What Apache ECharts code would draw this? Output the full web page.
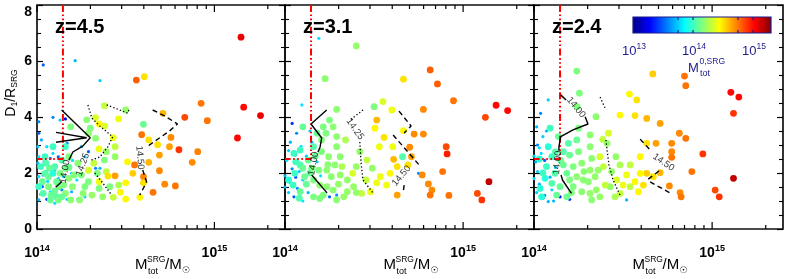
<!DOCTYPE html>
<html><head><meta charset="utf-8">
<script src="https://cdn.jsdelivr.net/npm/echarts@6/dist/echarts.min.js"></script>
<style>html,body{margin:0;padding:0;background:#fff}#c{width:789px;height:279px}</style>
</head><body><div id="c"></div>
<script>
// ---------------- DATA ----------------
const panelTitles = ['z=4.5', 'z=3.1', 'z=2.4'];
const yTicks = [0, 2, 4, 6, 8];
const xRange = [1e14, 2.5e15];
const xTickVals = [1e14,2e14,3e14,4e14,5e14,6e14,7e14,8e14,9e14,1e15,2e15];
const cbRange = [13, 15.3];            // log10 M0 colour range
const cbTickLogs = [13.75, 14, 14.75, 15];
const cbLabelLogs = [13, 14, 15];
const cutMass = 1.4e14, cutD = 2.5;

// points: [log10 Mtot, D1/R, log10 M0]
const p1Big = [
[15.15,6.85,15.05],[15.165,4.35,15.0],[15.26,4.05,15.05],[15.13,3.25,15.0],
[14.925,4.49,14.75],[14.96,3.87,14.75],[14.906,2.76,14.72],[14.875,2.38,14.7],
[14.833,3.99,14.85],[14.8,2.83,14.9],[14.78,1.54,14.75],[14.56,5.32,14.8],
[14.605,5.44,14.5],[14.71,4.13,14.6],[14.755,3.27,14.7],[14.747,2.94,14.65],
[14.72,1.6,14.7],[14.654,1.31,14.75],[14.59,3.37,14.75],[14.63,3.18,14.5],
[14.68,3.01,14.5],[14.6,3.74,14.1],[14.55,2.29,14.75],[14.63,2.38,14.6],
[14.69,2.64,14.65],[14.69,2.08,14.7],[14.6,1.87,14.7],[14.6,1.65,14.5],
[14.47,1.31,14.45],[14.5,1.07,14.45],[14.58,1.13,14.45],[14.43,1.13,14.3],
[14.54,1.99,14.55],[14.51,2.4,14.45],[14.44,1.9,14.65],[14.5,1.65,14.45],
[14.38,4.4,14.3],[14.33,3.98,14.35],[14.38,3.68,14.35],[14.5,4.25,14.2],
[14.46,3.93,14.4],[14.35,3.75,14.45],[14.3,3.6,14.15],[14.43,3.26,14.4],
[14.44,2.94,14.3],[14.39,2.76,14.2],[14.44,2.58,14.2],[14.35,2.86,14.4],
[14.38,2.46,14.15],[14.33,3.24,14.18],[14.29,3.42,14.18],[14.32,2.35,14.3],
[14.34,1.99,14.15],[14.39,2.05,14.3],[14.35,1.69,14.4],[14.41,1.51,14.15],
[14.35,1.45,14.15],[14.29,1.69,14.15],[14.27,1.51,14.15],[14.25,1.93,14.15],
[14.29,2.1,14.35],[14.23,2.35,14.18],[14.18,2.58,14.15],[14.16,2.94,14.0],
[14.19,3.65,14.15],[14.28,3.9,14.18],[14.2,1.51,14.18],[14.19,1.04,14.18],
[14.24,1.04,14.18],[14.16,1.27,14.18],[14.11,1.15,14.05],[14.12,1.51,14.15],
[14.21,1.93,14.15],[14.18,1.81,14.18],[14.26,1.27,14.18],[14.31,1.21,14.2],
[14.46,1.57,14.25],[14.4,1.89,14.5],[14.37,1.15,14.2],
[14.02,2.23,14.0],[14.045,1.99,14.05],[14.07,2.17,14.1],[14.1,2.23,14.05],
[14.13,1.99,14.15],[14.03,1.69,14.1],[14.065,1.51,14.15],[14.11,1.69,14.1],
[14.15,1.57,14.15],[14.035,1.27,14.05],[14.08,1.21,14.1],[14.075,1.04,14.1],
[14.12,1.04,14.15],[14.045,2.58,14.0],[14.09,2.94,14.0],[14.14,2.46,14.05],
[14.16,2.17,14.15],[14.01,1.51,14.0],[14.065,1.87,14.1],[14.09,1.99,13.95],
[14.14,1.15,14.1],[14.05,2.35,14.05],[14.1,1.35,14.1],[14.18,2.2,14.1]
];
const p1Small = [
[14.035,5.86,13.5],[14.215,6.01,13.7],[14.355,5.3,13.75],[14.09,3.99,13.6],[14.16,3.93,13.3],
[14.01,3.83,13.6],[14.025,3.18,13.7],[14.055,2.94,13.8],[14.01,2.58,13.8],[14.075,2.52,13.6],
[14.005,2.35,13.7],[14.055,2.05,13.75],[14.01,1.87,13.8],[14.17,2.23,13.4],[14.195,1.99,13.75],
[14.03,1.51,13.5],[14.075,1.33,13.8],[14.01,1.04,13.7],[14.055,1.06,13.45],[14.1,0.92,13.8],
[14.17,1.06,13.75],[14.225,1.75,13.8],[14.27,2.58,13.75],[14.29,2.76,13.5],[14.33,2.17,13.6],
[14.25,2.94,13.7],[14.17,3.06,13.6],[14.13,3.89,13.75],[14.23,1.06,13.7],[14.27,1.15,13.75],
[14.355,2.17,13.7],[14.01,3.42,13.5],[14.005,2.94,13.75],[14.12,2.58,13.5],[14.035,1.93,13.5],
[14.15,1.87,13.8],[14.195,1.33,13.7],[14.1,2.1,13.75],[14.06,1.7,13.8],[14.02,1.25,13.75],
[14.14,1.4,13.6],[14.09,2.7,13.8],[14.04,2.4,13.4],[14.12,1.8,13.7],[14.2,2.45,13.8]
];
const p2Big = [
[14.4,6.54,14.2],[14.815,5.68,14.8],[14.856,5.18,14.8],[14.665,5.35,14.5],[14.946,4.58,14.75],
[15.185,4.42,15.0],[15.25,4.23,15.0],[15.125,3.99,14.85],[15.145,1.69,15.15],[14.905,2.94,14.85],
[14.91,2.68,14.95],[14.885,2.05,14.75],[14.92,1.2,14.75],[15.08,1.27,14.85],[15.105,1.04,14.9],
[14.777,4.27,14.7],[14.725,3.39,14.7],[14.777,3.39,14.7],[14.665,3.51,14.45],[14.7,2.92,14.7],
[14.71,2.58,14.65],[14.69,2.29,14.5],[14.77,1.93,14.7],[14.805,1.61,14.7],[14.825,1.39,14.7],
[14.815,1.21,14.75],[14.61,2.49,14.6],[14.63,2.23,14.5],[14.63,1.21,14.65],[14.6,4.25,14.4],
[14.55,4.55,14.35],[14.5,4.37,14.15],[14.515,3.89,14.6],[14.505,3.6,14.45],[14.556,3.27,14.5],
[14.605,2.94,14.4],[14.66,2.58,14.05],[14.53,2.94,14.4],[14.59,1.99,14.45],[14.535,1.87,14.4],
[14.515,1.65,14.4],[14.57,1.57,14.4],[14.49,2.17,14.2],[14.455,1.75,14.3],[14.48,1.33,14.4],
[14.43,1.27,14.3],[14.46,2.46,14.3],[14.42,2.76,14.2],[14.4,2.23,14.2],[14.38,1.99,14.35],
[14.35,1.75,14.2],[14.385,1.51,14.2],[14.35,1.33,14.2],[14.4,1.3,14.2],[14.28,2.29,14.18],
[14.32,2.23,14.25],[14.31,2.58,14.18],[14.29,2.94,14.18],[14.34,3.18,14.25],[14.29,3.3,14.18],
[14.29,4.27,14.18],[14.225,5.37,14.18],[14.25,3.89,14.15],[14.23,3.42,14.15],[14.27,3.65,14.18],
[14.215,3.65,14.15],[14.205,3.18,14.15],[14.18,3.42,14.1],[14.16,2.94,14.05],[14.205,2.76,14.15],
[14.245,2.58,14.18],[14.235,2.1,14.18],[14.26,1.87,14.18],[14.31,1.93,14.2],[14.19,2.1,14.15],
[14.13,2.46,14.1],[14.085,2.82,14.0],[14.085,2.29,14.05],[14.055,1.99,14.0],[14.11,1.87,14.1],
[14.16,1.75,14.15],[14.195,1.57,14.18],[14.235,1.51,14.18],[14.27,1.39,14.18],[14.215,1.21,14.15],
[14.16,1.15,14.15],[14.085,1.33,14.1],[14.045,1.57,14.0],[14.02,1.75,13.95],[14.195,1.09,14.15],
[14.29,1.04,14.18],[14.33,1.15,14.2],[14.1,2.17,14.1],[14.15,2.17,14.15],[14.1,3.65,14.1],
[14.12,1.6,14.1],[14.06,2.4,14.0],[14.14,2.0,14.1],[14.3,1.6,14.2],[14.24,2.3,14.18],
[14.05,2.7,14.0],[14.17,2.6,14.1],[14.08,1.1,14.05]
];
const p2Small = [
[14.19,6.81,13.8],[14.095,4.43,13.8],[14.04,3.77,13.4],[14.065,3.42,13.6],[14.03,3.1,13.7],
[14.02,2.8,13.75],[14.06,2.65,13.5],[14.01,2.45,13.8],[14.04,2.15,13.6],[14.08,2.05,13.75],
[14.0,1.9,13.7],[14.03,1.65,13.8],[14.07,1.45,13.6],[14.02,1.3,13.75],[14.05,1.15,13.5],
[14.1,1.0,13.8],[14.25,1.15,13.5],[14.29,1.21,13.6],[14.75,1.99,13.6],[14.12,2.6,13.75],
[14.15,3.1,13.7],[14.1,1.75,13.75],[14.13,1.3,13.7],[14.2,1.9,13.8],[14.0,1.5,13.7],
[14.18,2.4,13.75],[14.06,1.85,13.45],[14.14,3.5,13.75],[14.09,2.95,13.8],[14.22,1.25,13.75]
];
const p3Big = [
[14.24,5.64,14.15],[14.667,5.54,14.55],[14.845,5.46,14.75],[14.852,5.12,14.75],[15.105,4.88,15.0],
[15.15,4.71,15.0],[15.12,4.13,14.9],[14.948,2.68,14.9],[15.12,1.81,15.15],[15.017,1.39,14.85],
[15.04,1.15,14.9],[14.886,2.05,14.75],[14.536,4.82,14.45],[14.577,4.61,14.5],[14.483,4.07,14.45],
[14.567,4.05,14.5],[14.633,3.95,14.6],[14.708,3.77,14.65],[14.816,3.42,14.7],[14.852,3.24,14.75],
[14.773,3.06,14.7],[14.685,3.06,14.65],[14.633,3.06,14.5],[14.773,2.76,14.7],[14.773,2.56,14.75],
[14.596,2.58,14.45],[14.633,1.99,14.55],[14.708,2.01,14.6],[14.67,1.87,14.5],[14.76,1.54,14.7],
[14.82,1.3,14.7],[14.826,1.15,14.75],[14.596,1.99,14.45],[14.567,1.69,14.45],[14.614,1.57,14.5],
[14.586,1.33,14.45],[14.52,1.93,14.4],[14.483,2.29,14.25],[14.54,2.29,14.3],[14.46,2.58,14.2],
[14.418,3.42,14.35],[14.386,3.2,14.3],[14.41,3.06,14.2],[14.348,4.01,14.18],[14.255,4.85,14.15],
[14.243,4.37,14.15],[14.37,2.58,14.35],[14.39,2.23,14.3],[14.436,2.05,14.2],[14.464,1.75,14.35],
[14.5,1.57,14.4],[14.455,1.15,14.25],[14.483,1.27,14.3],[14.54,1.51,14.3],[14.427,1.51,14.2],
[14.4,1.57,14.3],[14.343,1.87,14.2],[14.305,1.69,14.18],[14.315,2.1,14.2],[14.36,2.1,14.2],
[14.324,2.52,14.18],[14.315,2.94,14.18],[14.315,3.36,14.18],[14.25,3.6,14.15],[14.24,3.18,14.1],
[14.193,3.06,14.05],[14.2,2.64,14.1],[14.25,2.76,14.15],[14.268,2.35,14.18],[14.22,2.23,14.15],
[14.184,1.99,14.1],[14.24,1.87,14.18],[14.277,1.75,14.18],[14.22,1.51,14.15],[14.268,1.33,14.18],
[14.315,1.27,14.2],[14.324,1.04,14.18],[14.37,1.15,14.2],[14.165,2.76,14.05],[14.1,2.58,14.0],
[14.08,2.94,13.95],[14.07,2.23,14.0],[14.118,1.99,14.05],[14.062,1.81,13.95],[14.1,1.63,14.05],
[14.146,1.51,14.1],[14.034,1.45,13.95],[14.184,1.15,14.1],[14.127,1.21,14.1],[14.043,1.15,13.95],
[14.165,2.29,14.1],[14.137,3.3,14.1],[14.09,3.6,14.0],[14.2,1.75,14.15],[14.15,2.45,14.1],
[14.35,1.4,14.2],[14.28,2.05,14.18],[14.05,2.0,14.0],[14.21,1.3,14.15],[14.12,2.75,14.05],
[14.03,2.5,13.95]
];
const p3Small = [
[14.08,4.61,13.75],[14.037,4.13,13.6],[14.015,3.65,13.7],[14.05,3.3,13.75],[14.02,3.0,13.6],
[14.04,2.7,13.8],[14.01,2.4,13.7],[14.06,2.45,13.5],[14.02,2.05,13.75],[14.0,1.8,13.8],
[14.03,1.6,13.7],[14.015,1.3,13.75],[14.146,1.15,13.3],[14.2,1.06,13.4],[14.08,0.98,13.7],
[14.52,1.04,13.7],[14.06,1.2,13.6],[14.1,1.4,13.8],[14.09,1.85,13.7],[14.12,2.2,13.75],
[14.03,2.9,13.8],[14.07,3.5,13.7],[14.0,2.6,13.75],[14.11,1.0,13.7],[14.05,1.1,13.5]
];

// contour pieces: [log10 Mtot, D]
const c1Solid = [
 [[14.139,4.25],[14.30,3.26],[14.258,2.96],[14.202,2.75],[14.18,2.46]],
 [[14.107,3.45],[14.28,3.26],[14.107,3.1]],
 [[14.14,1.7],[14.107,1.5]]
];
const c1Dot = [
 [[14.287,4.43],[14.309,3.96],[14.354,3.68],[14.427,3.29],[14.399,2.93],[14.354,2.57],[14.30,2.45]],
 [[14.326,2.0],[14.371,1.64],[14.421,1.21]],
 [[14.393,4.43],[14.511,4.14],[14.522,4.32]]
];
const c1Dash = [
 [[14.652,4.25],[14.719,4.04],[14.792,3.75],[14.747,3.5],[14.674,3.18],[14.618,2.93]],
 [[14.596,2.11],[14.618,1.68],[14.579,1.21]]
];
const c2Solid = [
 [[14.234,4.25],[14.146,3.75],[14.206,3.25],[14.197,2.93],[14.185,2.75]],
 [[14.15,1.93],[14.236,1.29]]
];
const c2Dot = [
 [[14.438,4.25],[14.365,3.89]],
 [[14.42,3.11],[14.427,2.36],[14.438,1.75],[14.494,1.29]]
];
const c2Dash = [
 [[14.64,4.21],[14.708,3.68],[14.669,3.43]],
 [[14.607,3.36],[14.758,2.25]],
 [[14.669,1.57],[14.663,1.29]]
];
const c3Solid = [
 [[14.15,4.79],[14.18,4.61]],
 [[14.287,4.01],[14.303,3.75],[14.219,3.54],[14.15,3.3],[14.14,2.94],[14.14,2.8]],
 [[14.152,1.93],[14.16,1.75],[14.21,1.27]]
];
const c3Dot = [
 [[14.371,4.71],[14.404,4.25]],
 [[14.404,3.18],[14.41,2.82],[14.421,2.29],[14.444,1.75],[14.483,1.21]]
];
const c3Dash = [
 [[14.596,3.21],[14.652,2.82]],
 [[14.702,2.07],[14.635,1.75]],
 [[14.652,1.68],[14.775,1.25]]
];
// contour labels: [log10 Mtot, D, text]
const c1Labels = [[14.158,2.05,'14.00'],[14.258,2.3,'14.25'],[14.58,2.55,'14.50']];
const c2Labels = [[14.16,2.34,'14.00'],[14.393,3.57,'14.25'],[14.654,1.9,'14.50']];
const c3Labels = [[14.236,4.34,'14.00'],[14.132,2.37,'14.00'],[14.727,2.38,'14.50']];

// ---------------- STYLE / LAYOUT ----------------
const labelRot = [[80,70,-85],[80,-55,50],[-50,85,-35]];
const jet = ['#00007f','#0000ff','#007fff','#00ffff','#7fff7f','#ffff00','#ff7f00','#ff0000','#7f0000'];
const navy = '#1c1c8e';
const FONT = 'Liberation Sans, Arial, Helvetica, sans-serif';
const gridBoxes = [
  {left:37, top:5, width:248, height:224},
  {left:285, top:5, width:249, height:224},
  {left:534, top:5, width:249, height:224}
];
const panels = [
  {big:p1Big, small:p1Small, solid:c1Solid, dot:c1Dot, dash:c1Dash, labels:c1Labels},
  {big:p2Big, small:p2Small, solid:c2Solid, dot:c2Dot, dash:c2Dash, labels:c2Labels},
  {big:p3Big, small:p3Small, solid:c3Solid, dot:c3Dot, dash:c3Dash, labels:c3Labels}
];

const chart = echarts.init(document.getElementById('c'), null, {renderer:'canvas'});

const grid = gridBoxes.map(g => Object.assign({show:true, borderColor:'#111', borderWidth:1.7, backgroundColor:'transparent'}, g));
const isPow10 = v => { const l = Math.log10(v); return Math.abs(l - Math.round(l)) < 1e-6; };

const xAxis = gridBoxes.map((g, i) => ({
  type:'log', logBase:10, gridIndex:i, min:xRange[0], max:xRange[1],
  axisLine:{show:false}, axisTick:{show:false}, splitLine:{show:false}, minorTick:{show:false},
  axisLabel:{
    show:true, margin:15, showMaxLabel:false,
    formatter: v => isPow10(v) ? '{b|10}{s|' + Math.round(Math.log10(v)) + '}' : '',
    rich:{
      b:{fontSize:14, fontWeight:'bold', fontFamily:FONT, color:'#000'},
      s:{fontSize:9, fontWeight:'bold', fontFamily:FONT, color:'#000', padding:[0,0,9,0]}
    }
  }
}));

const yAxisCommon = {
  type:'value', min:yTicks[0], max:yTicks[yTicks.length-1], interval:2,
  axisLine:{show:false}, splitLine:{show:false},
  axisTick:{show:true, inside:true, length:6, lineStyle:{color:'#000', width:1.2}},
  minorTick:{show:true, splitNumber:4, length:4, lineStyle:{color:'#000', width:1.1}}
};
const yAxis = [];
gridBoxes.forEach((g, i) => {
  yAxis.push(Object.assign({}, yAxisCommon, {
    gridIndex:i, position:'left',
    axisLabel: i === 0 ? {show:true, fontSize:14, fontWeight:'bold', fontFamily:FONT, color:'#000', margin:5,
      verticalAlignMaxLabel:'top'} : {show:false}
  }));
});
gridBoxes.forEach((g, i) => {
  yAxis.push(Object.assign({}, yAxisCommon, {gridIndex:i, position:'right', axisLabel:{show:false}}));
});

const series = [];
const scatterIdx = [];
const toXY = d => [Math.pow(10, d[0]), d[1]];

panels.forEach((p, gi) => {
  scatterIdx.push(series.length);
  series.push({type:'scatter', xAxisIndex:gi, yAxisIndex:gi, symbol:'circle', symbolSize:3.2, z:2, silent:true,
    data:p.small.map(d => [Math.pow(10, d[0]), d[1], d[2]]), itemStyle:{opacity:1}});
  scatterIdx.push(series.length);
  series.push({type:'scatter', xAxisIndex:gi, yAxisIndex:gi, symbol:'circle', symbolSize:6.8, z:2, silent:true,
    data:p.big.map(d => [Math.pow(10, d[0]), d[1], d[2]]), itemStyle:{opacity:1}});
  // red selection lines
  series.push({type:'line', xAxisIndex:gi, yAxisIndex:gi, symbol:'none', z:4, silent:true,
    data:[[cutMass, yTicks[yTicks.length-1]], [cutMass, cutD], [xRange[0], cutD]],
    lineStyle:{color:'#ff0000', width:2, type:[7,2.5,1.6,2.5,1.6,2.5,1.6,2.5]}});
  const addLines = (pieces, type) => pieces.forEach(seg => series.push({
    type:'line', xAxisIndex:gi, yAxisIndex:gi, symbol:'none', z:5, silent:true,
    data:seg.map(toXY), lineStyle:{color:'#000', width:type === 'dotted' ? 1.3 : 1.4,
      type: type === 'solid' ? 'solid' : (type === 'dotted' ? [1.3,2.2] : [5,3.5])}
  }));
  addLines(p.solid, 'solid');
  addLines(p.dot, 'dotted');
  addLines(p.dash, 'dashed');
  series.push({type:'scatter', xAxisIndex:gi, yAxisIndex:gi, symbolSize:0, z:6, silent:true,
    data:p.labels.map((l, k) => ({value:toXY(l), label:{show:true, position:'inside', formatter:l[2], rotate:labelRot[gi][k],
      fontSize:9.5, fontFamily:FONT, color:'#000'}}))});
  // log minor/major ticks on bottom and top
  series.push({type:'custom', xAxisIndex:gi, yAxisIndex:gi, z:7, silent:true, clip:false,
    encode:{x:0, y:1},
    data:xTickVals.map(v => [v, 0]),
    renderItem:(params, api) => {
      const v = api.value(0);
      const len = isPow10(v) ? 7 : 4;
      const b = api.coord([v, yTicks[0]]);
      const t = api.coord([v, yTicks[yTicks.length-1]]);
      return {type:'group', children:[
        {type:'line', shape:{x1:b[0], y1:b[1], x2:b[0], y2:b[1]-len}, style:{stroke:'#000', lineWidth:1.2}},
        {type:'line', shape:{x1:t[0], y1:t[1], x2:t[0], y2:t[1]+len}, style:{stroke:'#000', lineWidth:1.2}}
      ]};
    }});
});

// ---------------- GRAPHIC TEXT / COLORBAR ----------------
const graphic = [];
gridBoxes.forEach((g, i) => {
  graphic.push({type:'text', x:g.left + 18, y:27, z:100,
    style:{text:panelTitles[i], fontSize:20, fontWeight:'bold', fontFamily:FONT, fill:'#000', verticalAlign:'middle', align:'left'}});
  const cx = g.left + g.width / 2;
  graphic.push({type:'text', x:cx-26, y:265, style:{text:'M', fontSize:15, fontFamily:FONT, fill:'#000', verticalAlign:'middle'}});
  graphic.push({type:'text', x:cx-14, y:260, style:{text:'SRG', fontSize:8.5, fontFamily:FONT, fill:'#000', verticalAlign:'middle'}});
  graphic.push({type:'text', x:cx-13, y:271.5, style:{text:'tot', fontSize:9, fontFamily:FONT, fill:'#000', verticalAlign:'middle'}});
  graphic.push({type:'text', x:cx+4, y:265, style:{text:'/M', fontSize:15, fontFamily:FONT, fill:'#000', verticalAlign:'middle'}});
  graphic.push({type:'text', x:cx+21, y:271, style:{text:'\u2609', fontSize:9, fontFamily:'DejaVu Sans', fill:'#000', verticalAlign:'middle'}});
});
// y title
graphic.push({type:'text', x:11, y:93, rotation:Math.PI/2,
  style:{text:'{a|D}{s|1}{a|/R}{s|SRG}', align:'center', verticalAlign:'middle',
    rich:{a:{fontSize:14, fontFamily:FONT, fill:'#000'}, s:{fontSize:8.5, fontFamily:FONT, fill:'#000', padding:[7,0,0,0]}}}});
// colorbar
const cb = {x:633, y:17, w:138, h:16};
const cbX = l => cb.x + (l - cbRange[0]) / (cbRange[1] - cbRange[0]) * cb.w;
graphic.push({type:'rect', shape:{x:cb.x, y:cb.y, width:cb.w, height:cb.h}, z:100,
  style:{fill:new echarts.graphic.LinearGradient(0,0,1,0, jet.map((c,i) => ({offset:i/(jet.length-1), color:c}))), stroke:navy, lineWidth:1.2}});
cbTickLogs.forEach(l => {
  const x = cbX(l);
  graphic.push({type:'line', z:101, shape:{x1:x, y1:cb.y, x2:x, y2:cb.y+3}, style:{stroke:navy, lineWidth:1.2}});
  graphic.push({type:'line', z:101, shape:{x1:x, y1:cb.y+cb.h, x2:x, y2:cb.y+cb.h-3}, style:{stroke:navy, lineWidth:1.2}});
});
cbLabelLogs.forEach(l => {
  graphic.push({type:'text', x:cbX(l)+1, y:51, z:100,
    style:{text:'{b|10}{s|' + l + '}', align:'center', verticalAlign:'middle',
      rich:{b:{fontSize:13, fontFamily:FONT, fill:navy}, s:{fontSize:8.5, fontFamily:FONT, fill:navy, padding:[0,0,9,0]}}}});
});
graphic.push({type:'text', x:688, y:68, z:100, style:{text:'M', fontSize:13, fontFamily:FONT, fill:navy, verticalAlign:'middle'}});
graphic.push({type:'text', x:699.5, y:62, z:100, style:{text:'0,SRG', fontSize:8.5, fontFamily:FONT, fill:navy, verticalAlign:'middle'}});
graphic.push({type:'text', x:700, y:73.5, z:100, style:{text:'tot', fontSize:9, fontFamily:FONT, fill:navy, verticalAlign:'middle'}});

chart.setOption({
  animation:false,
  backgroundColor:'#fff',
  grid, xAxis, yAxis,
  visualMap:{show:false, type:'continuous', dimension:2, min:cbRange[0], max:cbRange[1], seriesIndex:scatterIdx,
    inRange:{color:jet}},
  series, graphic
});
</script>
</body></html>
